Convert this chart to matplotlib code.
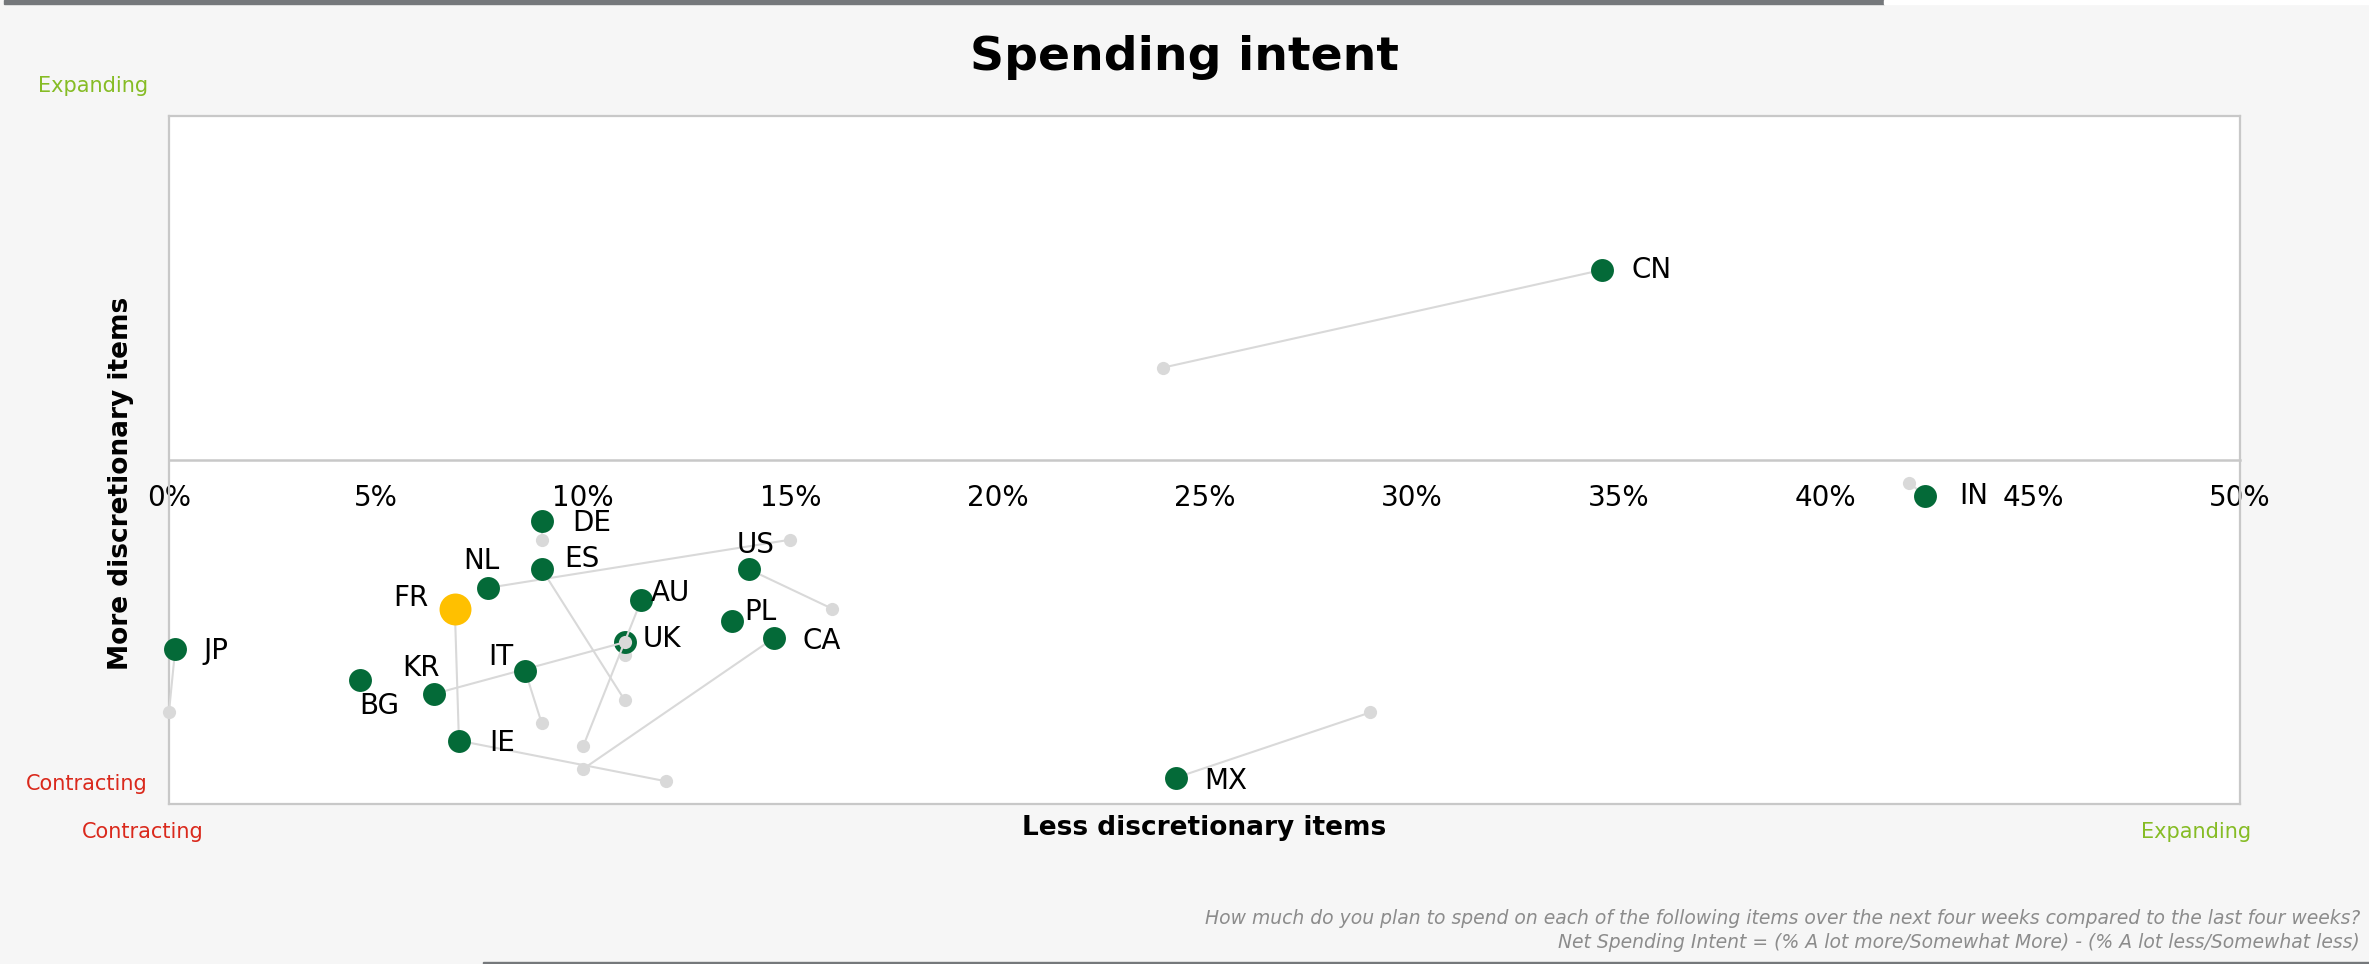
import matplotlib
matplotlib.use('agg')
import matplotlib.pyplot as plt
from matplotlib.patches import Rectangle

######## data ########
countries = ['CN', 'IN', 'MX', 'JP', 'BG', 'NL', 'DE', 'ES', 'US', 'UK',
             'AU', 'KR', 'IT', 'PL', 'CA', 'FR', 'IE']
# net spending intent now (%)
less_now = [34.6, 42.4, 24.3, 0.15, 4.6, 7.7, 9.0, 9.0, 14.0, 11.0,
            11.4, 6.4, 8.6, 13.6, 14.6, 6.9, 7.0]
more_now = [27.6, -5.2, -46.2, -27.5, -32.0, -18.6, -8.9, -15.9, -15.9, -26.4,
            -20.4, -34.0, -30.7, -23.4, -25.9, -21.6, -40.8]
# previous wave (%)
less_prev = [24.0, 42.0, 29.0, 0.0, 4.6, 15.0, 9.0, 11.0, 16.0, 11.0,
             10.0, 11.0, 9.0, 13.6, 10.0, 7.0, 12.0]
more_prev = [13.4, -3.3, -36.7, -36.6, -32.0, -11.6, -11.7, -34.9, -21.6, -28.3,
             -41.6, -26.5, -38.3, -23.4, -44.9, -40.8, -46.7]
highlight = 'FR'

xticks = [0, 5, 10, 15, 20, 25, 30, 35, 40, 45, 50]
xtick_labels = [str(t) + '%' for t in xticks]

######## style ########
dgreen = '#046a38'
lgreen = '#86bc25'
red = '#da291c'
yellow = '#ffc000'
grey = '#d9d9d9'
frame = '#c8c8c8'
bg = '#f6f6f6'

# label offsets in pixels (dx, dy down), alignment
label_pos = {
    'CN': (29, 0, 'left'), 'IN': (34, 0, 'left'), 'MX': (29, 3, 'left'),
    'DE': (30, 2, 'left'), 'JP': (28, 2, 'left'), 'IE': (30, 2, 'left'),
    'UK': (18, -3, 'left'), 'CA': (29, 3, 'left'), 'AU': (10, -7, 'left'),
    'PL': (12, -9, 'left'), 'ES': (22, -10, 'left'),
    'NL': (-7, -27, 'center'), 'FR': (-44, -11, 'center'),
    'KR': (-13, -26, 'center'), 'BG': (20, 26, 'center'),
    'IT': (-24, -14, 'center'), 'US': (7, -24, 'center'),
}

W, H = 2369, 964
fig = plt.figure(figsize=(W / 100, H / 100), dpi=100)
fig.patch.set_facecolor(bg)

def fx(px):
    return px / W

def fy(py):
    return 1 - py / H

ax = fig.add_axes([fx(169), fy(804), fx(2240) - fx(169), fy(115.7) - fy(804)])
ax.set_facecolor('white')
ax.set_xlim(0, 50)
ax.set_ylim(-50, 50)
ax.set_xticks([])
ax.set_yticks([])
for s in ax.spines.values():
    s.set_color(frame)
    s.set_linewidth(1.6)

# zero line with percent labels below it
sec = ax.secondary_xaxis(0.5)
sec.set_xticks(xticks, xtick_labels)
sec.xaxis.set_ticks_position('bottom')
sec.tick_params(axis='x', length=0, pad=17.5, labelsize=20, colors='black',
                labelbottom=True, labeltop=False)
for s in sec.spines.values():
    s.set_color(frame)
    s.set_linewidth(1.8)

pt = 72 / 100  # points per pixel
for i, c in enumerate(countries):
    z = 10 + 3 * i
    ax.plot([less_prev[i], less_now[i]], [more_prev[i], more_now[i]],
            color=grey, lw=1.5, zorder=z, clip_on=False)
    ax.plot(less_prev[i], more_prev[i], 'o', color=grey, ms=9.5, mec='none',
            zorder=z + 1, clip_on=False)
    if c == highlight:
        ax.plot(less_now[i], more_now[i], 'o', color=yellow, ms=23, mec='none',
                zorder=z + 2, clip_on=False)
    else:
        ax.plot(less_now[i], more_now[i], 'o', color=dgreen, ms=16.5, mec='none',
                zorder=z + 2, clip_on=False)
    dx, dy, ha = label_pos[c]
    ax.annotate(c, (less_now[i], more_now[i]), xytext=(dx * pt, -dy * pt),
                textcoords='offset points', ha=ha, va='center', fontsize=20,
                zorder=100)

# titles and axis names
fig.text(fx(1184), fy(58), 'Spending intent', ha='center', va='center',
         fontsize=34, fontweight='bold')
fig.text(fx(121), fy(483), 'More discretionary items', rotation=90,
         ha='center', va='center', fontsize=19, fontweight='bold')
fig.text(fx(1204), fy(828), 'Less discretionary items', ha='center',
         va='center', fontsize=19, fontweight='bold')

# corner notes
fig.text(fx(148), fy(86), 'Expanding', ha='right', va='center', fontsize=15, color=lgreen)
fig.text(fx(148), fy(784), 'Contracting', ha='right', va='center', fontsize=15, color=red)
fig.text(fx(82), fy(832), 'Contracting', ha='left', va='center', fontsize=15, color=red)
fig.text(fx(2251), fy(832), 'Expanding', ha='right', va='center', fontsize=15, color=lgreen)

fig.text(fx(2360), fy(918), 'How much do you plan to spend on each of the following items '
         'over the next four weeks compared to the last four weeks?',
         ha='right', va='center', fontsize=13.5, style='italic', color='#8c8c8c')
fig.text(fx(2360), fy(943), 'Net Spending Intent = (% A lot more/Somewhat More) - '
         '(% A lot less/Somewhat less)',
         ha='right', va='center', fontsize=13.5, style='italic', color='#8c8c8c')

# decorative bars
fig.patches.append(Rectangle((fx(4), fy(4)), fx(1884) - fx(4), fy(0) - fy(4),
                             transform=fig.transFigure, color='#75787b', zorder=0))
fig.patches.append(Rectangle((fx(1884), fy(4)), 1 - fx(1884), fy(0) - fy(4),
                             transform=fig.transFigure, color='white', zorder=0))
fig.patches.append(Rectangle((fx(483), 0), 1 - fx(483), fy(962),
                             transform=fig.transFigure, color='#75787b', zorder=0))

fig.savefig('out.png', dpi=100, facecolor=bg)
